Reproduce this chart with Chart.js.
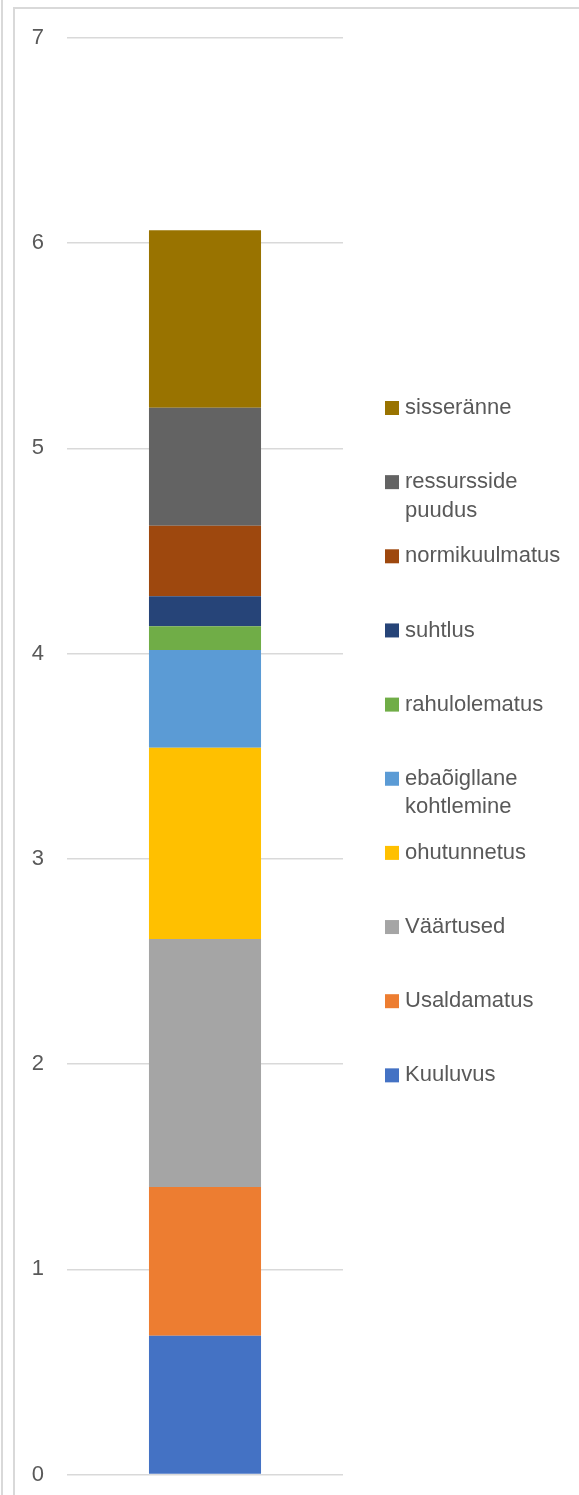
<!DOCTYPE html>
<html>
<head>
<meta charset="utf-8">
<script src="https://cdn.jsdelivr.net/npm/chart.js@4/dist/chart.umd.min.js"></script>
<style>
  html, body { margin: 0; padding: 0; background: #fff; }
  #wrap { position: relative; width: 579px; height: 1495px; }
</style>
</head>
<body>
<div id="wrap"><canvas id="chart"></canvas></div>
<script>
  const seriesNames = [
    "Kuuluvus",
    "Usaldamatus",
    "Väärtused",
    "ohutunnetus",
    "ebaõigllane kohtlemine",
    "rahulolematus",
    "suhtlus",
    "normikuulmatus",
    "ressursside puudus",
    "sisseränne",
  ];
  const seriesValues = [0.676, 0.725, 1.208, 0.932, 0.477, 0.116, 0.146, 0.343, 0.575, 0.865];
  const seriesColors = [
    "#4472C4", "#ED7D31", "#A5A5A5", "#FFC000", "#5B9BD5",
    "#70AD47", "#264478", "#9E480E", "#636363", "#997300",
  ];
  const categories = [""];
  const yTicks = [0, 1, 2, 3, 4, 5, 6, 7];

  const fontFamily = "'Liberation Sans', Arial, sans-serif";
  const fontSize = 22;
  const textColor = "#595959";

  // frame lines around the picture
  const framePlugin = {
    id: "frame",
    beforeDraw(chart) {
      const ctx = chart.ctx;
      ctx.save();
      ctx.strokeStyle = "#d9d9d9";
      ctx.lineWidth = 2;
      ctx.beginPath();
      ctx.moveTo(2, 0);
      ctx.lineTo(2, chart.height);
      ctx.moveTo(14, chart.height);
      ctx.lineTo(14, 8);
      ctx.lineTo(chart.width, 8);
      ctx.stroke();
      ctx.restore();
    },
  };

  // legend on the right, top item = last series
  const sideLegend = {
    id: "sideLegend",
    afterDraw(chart) {
      const ctx = chart.ctx;
      ctx.save();
      ctx.font = `${fontSize}px ${fontFamily}`;
      ctx.textBaseline = "middle";
      ctx.fillStyle = textColor;
      const boxX = 385;
      const textX = 405;
      const maxW = 170;
      const startY = 408;
      const step = 74.15;
      const lineH = 28.5;
      const sets = chart.data.datasets.slice().reverse();
      sets.forEach((ds, i) => {
        const cy = startY + i * step;
        ctx.fillStyle = ds.backgroundColor;
        ctx.fillRect(boxX, cy - 7, 14, 14);
        ctx.fillStyle = textColor;
        const words = ds.label.split(" ");
        const lines = [];
        let cur = "";
        words.forEach((w) => {
          const test = cur ? cur + " " + w : w;
          if (cur && ctx.measureText(test).width > maxW) {
            lines.push(cur);
            cur = w;
          } else {
            cur = test;
          }
        });
        lines.push(cur);
        lines.forEach((ln, j) => {
          ctx.fillText(ln, textX, cy + j * lineH);
        });
      });
      ctx.restore();
    },
  };

  const chartContainer = document.getElementById("chart");

  const datasets = seriesNames.map((name, i) => ({
    label: name,
    data: [seriesValues[i]],
    backgroundColor: seriesColors[i],
    borderWidth: 0,
    barPercentage: 0.406,
    categoryPercentage: 1,
  }));

  new Chart(chartContainer, {
    type: "bar",
    data: {
      labels: categories,
      datasets: datasets,
    },
    options: {
      responsive: true,
      maintainAspectRatio: false,
      animation: false,
      events: [],
      layout: {
        padding: { left: 0, right: 236, top: 38, bottom: 20.5 },
      },
      plugins: {
        legend: { display: false },
        tooltip: { enabled: false },
      },
      scales: {
        x: {
          stacked: true,
          display: false,
        },
        y: {
          stacked: true,
          min: yTicks[0],
          max: yTicks[yTicks.length - 1],
          afterFit: (scale) => {
            scale.width = 67;
            scale.paddingTop = 0;
            scale.paddingBottom = 0;
          },
          border: { display: false },
          grid: {
            color: "#d9d9d9",
            lineWidth: 1.5,
            drawTicks: false,
          },
          ticks: {
            stepSize: 1,
            padding: 23,
            color: textColor,
            font: { family: fontFamily, size: fontSize },
          },
        },
      },
    },
    plugins: [framePlugin, sideLegend],
  });
</script>
</body>
</html>
